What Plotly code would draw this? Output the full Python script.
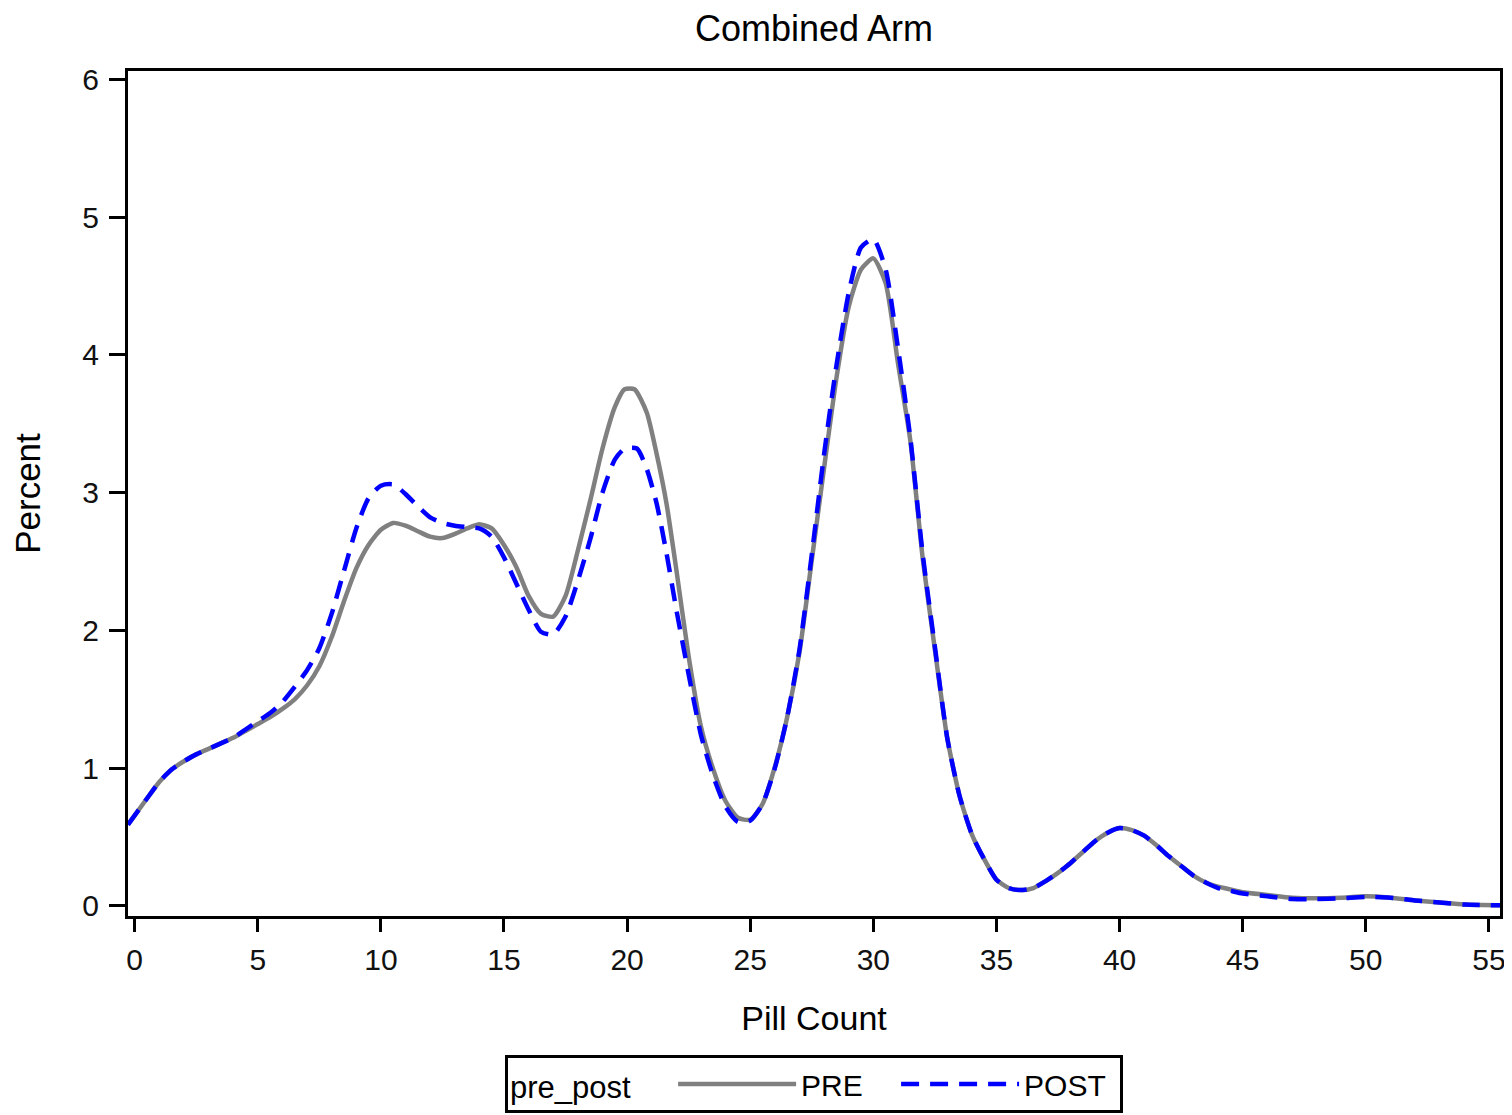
import plotly.graph_objects as go

# ---- data ----
pre_x = [-0.27, 0.5, 1.0, 1.5, 2.0, 2.5, 3.0, 3.5, 4.0, 4.5, 5.0, 5.5, 6.0, 6.5, 7.0, 7.5,
         8.0, 8.5, 9.0, 9.5, 10.0, 10.5, 11.0, 11.5, 12.0, 12.5, 13.0, 13.5, 14.0, 14.5,
         15.0, 15.5, 16.0, 16.5, 17.0, 17.5, 18.0, 18.5, 19.0, 19.5, 19.9, 20.3, 20.8,
         21.2, 21.6, 22.0, 22.5, 23.0, 23.5, 24.0, 24.5, 25.0, 25.5, 26.0, 26.5, 27.0,
         27.5, 28.0, 28.5, 29.0, 29.5, 30.0, 30.5, 31.0, 31.5, 32.0, 32.5, 33.0, 33.5,
         34.0, 34.5, 35.0, 35.5, 36.0, 36.5, 37.0, 37.5, 38.0, 38.5, 39.0, 39.5, 40.0,
         40.5, 41.0, 41.5, 42.0, 42.5, 43.0, 43.5, 44.0, 44.5, 45.0, 46.0, 47.0, 48.0,
         49.0, 50.0, 51.0, 52.0, 53.0, 54.0, 55.45]
pre_y = [0.59, 0.78, 0.90, 0.99, 1.05, 1.10, 1.14, 1.18, 1.22, 1.27, 1.32, 1.37, 1.43, 1.50,
         1.60, 1.74, 1.95, 2.21, 2.45, 2.62, 2.73, 2.78, 2.76, 2.72, 2.68, 2.67, 2.70, 2.74,
         2.77, 2.74, 2.62, 2.46, 2.25, 2.12, 2.10, 2.25, 2.58, 2.94, 3.32, 3.62, 3.75, 3.75,
         3.58, 3.28, 2.92, 2.44, 1.81, 1.30, 0.99, 0.76, 0.64, 0.625, 0.74, 1.01, 1.37, 1.84,
         2.51, 3.18, 3.83, 4.35, 4.62, 4.70, 4.52, 3.94, 3.38, 2.53, 1.86, 1.22, 0.80, 0.52,
         0.34, 0.19, 0.13, 0.115, 0.13, 0.18, 0.24, 0.31, 0.39, 0.47, 0.53, 0.565, 0.55,
         0.51, 0.44, 0.36, 0.29, 0.22, 0.17, 0.14, 0.12, 0.10, 0.08, 0.06, 0.055, 0.06,
         0.07, 0.06, 0.04, 0.025, 0.01, 0.005]

post_x = [-0.27, 0.5, 1.0, 1.5, 2.0, 2.5, 3.0, 3.5, 4.0, 4.5, 5.0, 5.5, 6.0, 6.5, 7.0, 7.5,
          8.0, 8.5, 9.0, 9.5, 10.0, 10.5, 11.0, 11.5, 12.0, 12.5, 13.0, 13.5, 14.0, 14.5,
          15.0, 15.5, 16.0, 16.5, 17.0, 17.5, 18.0, 18.5, 19.0, 19.5, 19.9, 20.4, 20.8,
          21.2, 21.6, 22.0, 22.5, 23.0, 23.5, 24.0, 24.5, 25.0, 25.5, 26.0, 26.5, 27.0,
          27.5, 28.0, 28.5, 29.0, 29.5, 30.0, 30.5, 31.0, 31.5, 32.0, 32.5, 33.0, 33.5,
          34.0, 34.5, 35.0, 35.5, 36.0, 36.5, 37.0, 37.5, 38.0, 38.5, 39.0, 39.5, 40.0,
          40.5, 41.0, 41.5, 42.0, 42.5, 43.0, 43.5, 44.0, 44.5, 45.0, 46.0, 47.0, 48.0,
          49.0, 50.0, 51.0, 52.0, 53.0, 54.0, 55.45]
post_y = [0.59, 0.78, 0.90, 0.99, 1.05, 1.10, 1.14, 1.18, 1.22, 1.28, 1.34, 1.40, 1.48, 1.59,
          1.71, 1.87, 2.12, 2.43, 2.74, 2.96, 3.05, 3.06, 2.99, 2.90, 2.82, 2.78, 2.76, 2.75,
          2.74, 2.68, 2.53, 2.34, 2.15, 1.99, 1.97, 2.10, 2.36, 2.66, 3.00, 3.24, 3.32, 3.32,
          3.17, 2.92, 2.56, 2.15, 1.68, 1.24, 0.94, 0.72, 0.61, 0.62, 0.74, 1.00, 1.37, 1.86,
          2.55, 3.28, 3.92, 4.45, 4.78, 4.84, 4.62, 4.05, 3.40, 2.56, 1.88, 1.22, 0.80, 0.52,
          0.34, 0.19, 0.13, 0.115, 0.13, 0.18, 0.24, 0.31, 0.39, 0.47, 0.53, 0.565, 0.55,
          0.51, 0.44, 0.36, 0.29, 0.22, 0.17, 0.13, 0.11, 0.09, 0.07, 0.05, 0.05, 0.055,
          0.065, 0.06, 0.04, 0.025, 0.01, 0.005]

x_ticks = [0, 5, 10, 15, 20, 25, 30, 35, 40, 45, 50, 55]
y_ticks = [0, 1, 2, 3, 4, 5, 6]

FONT = "Liberation Sans, Arial, sans-serif"
W, H = 1504, 1107  # page body has an 8px margin

fig = go.Figure()
fig.add_trace(go.Scatter(x=pre_x, y=pre_y, mode="lines", name="PRE",
                         line=dict(color="#808080", width=4.5, shape="spline", smoothing=0.6)))
fig.add_trace(go.Scatter(x=post_x, y=post_y, mode="lines", name="POST",
                         line=dict(color="#0000FF", width=4.5, dash="18px,11px",
                                   shape="spline", smoothing=0.6)))

axis_common = dict(showgrid=False, zeroline=False, showline=True, linecolor="black",
                   linewidth=3, mirror=True, ticks="outside", tickwidth=3, tickcolor="black",
                   tickfont=dict(family=FONT, size=30, color="#111"))

fig.update_layout(
    width=W, height=H,
    paper_bgcolor="white", plot_bgcolor="white",
    margin=dict(l=120, r=12, t=63, b=199, autoexpand=False),
    font=dict(family=FONT, color="black"),
    title=dict(text="Combined Arm", x=0.5, xref="paper", xanchor="center",
               y=1 - 20 / H, yref="container", yanchor="middle",
               font=dict(family=FONT, size=36, color="black")),
    xaxis=dict(range=[-0.27, 55.45], tickvals=x_ticks, ticklen=13, ticklabelstandoff=2,
               title=dict(text="Pill Count", font=dict(family=FONT, size=34), standoff=32),
               automargin=False, **axis_common),
    yaxis=dict(range=[-0.073, 6.06], tickvals=y_ticks, ticklen=16, ticklabelstandoff=4,
               title=dict(text="Percent", font=dict(family=FONT, size=35), standoff=34),
               automargin=False, **axis_common),
    showlegend=True,
    legend=dict(orientation="h", x=0.5, xanchor="center", y=-0.2331, yanchor="bottom",
                bordercolor="black", borderwidth=3, bgcolor="white",
                title=dict(text="pre_post\u00a0\u00a0\u00a0\u00a0", font=dict(family=FONT, size=31)),
                font=dict(family=FONT, size=30, color="black"),
                itemwidth=118, entrywidth=90, valign="middle"),
)

fig.write_html("out.html")
